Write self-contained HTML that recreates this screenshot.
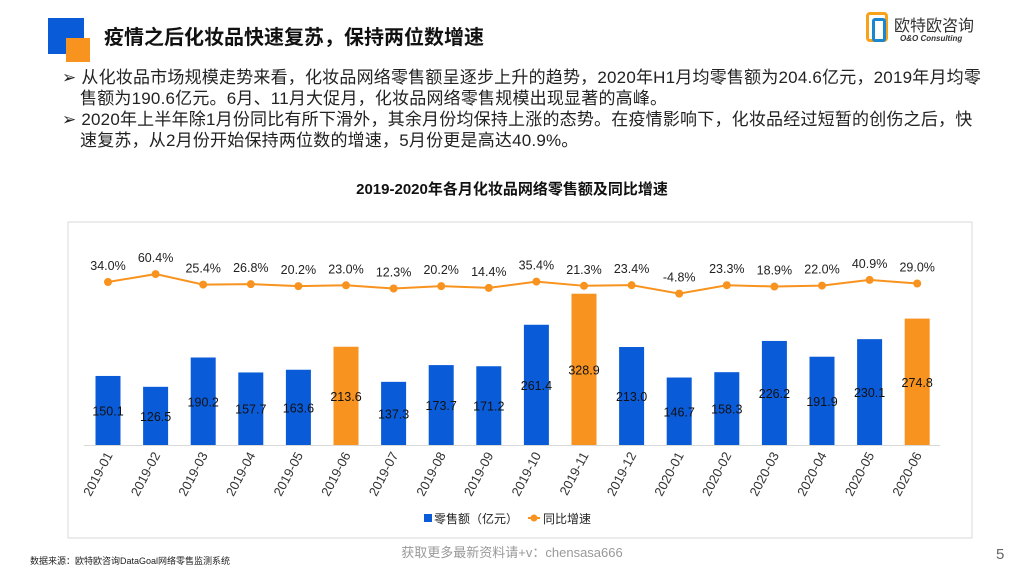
<!DOCTYPE html>
<html><head><meta charset="utf-8"><style>
body{margin:0;width:1024px;height:572px;background:#fff;position:relative;overflow:hidden;font-family:"Liberation Sans","Noto Sans CJK SC",sans-serif}
.abs{position:absolute}
</style></head><body>
<div class="abs" style="left:48px;top:18px;width:36px;height:36px;background:#0a5bd8"></div>
<div class="abs" style="left:66px;top:38px;width:24px;height:24px;background:#f7931e"></div>
<div class="abs" style="left:104px;top:21px;font-size:20px;font-weight:bold;color:#111">疫情之后化妆品快速复苏，保持两位数增速</div>
<div class="abs" style="left:866px;top:12px;width:130px;height:36px">
<div class="abs" style="left:0;top:0;width:22px;height:30px;border:3px solid #f7a21b;border-radius:4px;box-sizing:border-box"></div>
<div class="abs" style="left:6px;top:6px;width:14px;height:24px;border:3px solid #1a86d0;border-radius:3px;box-sizing:border-box"></div>
<div class="abs" style="left:28px;top:0;font-size:16px;color:#333">欧特欧咨询</div>
<div class="abs" style="left:34px;top:22px;font-size:8px;color:#333;font-style:italic;font-weight:bold">O&amp;O Consulting</div>
</div>
<div class="abs" style="left:62px;top:67px;white-space:nowrap;font-size:17px;line-height:21px;color:#222;letter-spacing:0.2px">
<div>➢ 从化妆品市场规模走势来看，化妆品网络零售额呈逐步上升的趋势，2020年H1月均零售额为204.6亿元，2019年月均零<br><span style="padding-left:18px">售额为190.6亿元。6月、11月大促月，化妆品网络零售规模出现显著的高峰。</span></div>
<div>➢ 2020年上半年除1月份同比有所下滑外，其余月份均保持上涨的态势。在疫情影响下，化妆品经过短暂的创伤之后，快<br><span style="padding-left:18px">速复苏，从2月份开始保持两位数的增速，5月份更是高达40.9%。</span></div>
</div>
<div class="abs" style="left:0;width:1024px;top:178px;text-align:center;font-size:15px;font-weight:bold;color:#111">2019-2020年各月化妆品网络零售额及同比增速</div>
<svg class="abs" style="left:0;top:0" width="1024" height="572">
<rect x="68" y="222" width="904" height="316" fill="none" stroke="#d9d9d9"/>
<line x1="84" x2="940" y1="445.5" y2="445.5" stroke="#d9d9d9"/>
<g id="g"></g>
<g font-size="12" fill="#222">
<rect x="424" y="514" width="8" height="8" fill="#0a5bd8"/><text x="434" y="523">零售额（亿元）</text>
<line x1="528" x2="540" y1="518" y2="518" stroke="#f7931e" stroke-width="2"/><circle cx="534" cy="518" r="3.5" fill="#f7931e"/><text x="543" y="523">同比增速</text>
</g>
</svg>
<div class="abs" style="left:30px;top:554px;font-size:9px;color:#222">数据来源：欧特欧咨询DataGoal网络零售监测系统</div>
<div class="abs" style="left:0;width:1024px;top:542px;text-align:center;font-size:13px;color:#999">获取更多最新资料请+v：chensasa666</div>
<div class="abs" style="left:996px;top:546px;font-size:15px;color:#666">5</div>
<script>
const categories=["2019-01","2019-02","2019-03","2019-04","2019-05","2019-06","2019-07","2019-08","2019-09","2019-10","2019-11","2019-12","2020-01","2020-02","2020-03","2020-04","2020-05","2020-06"];
const sales=[150.1,126.5,190.2,157.7,163.6,213.6,137.3,173.7,171.2,261.4,328.9,213.0,146.7,158.3,226.2,191.9,230.1,274.8];
const growth=[34.0,60.4,25.4,26.8,20.2,23.0,12.3,20.2,14.4,35.4,21.3,23.4,-4.8,23.3,18.9,22.0,40.9,29.0];
const highlight=["2019-06","2019-11","2020-06"];
const NS="http://www.w3.org/2000/svg",g=document.getElementById('g');
const xc=i=>108+i*47.6, yb=v=>445-v*0.46, yl=v=>292.2-v*0.3;
function mk(t,a){const e=document.createElementNS(NS,t);for(const k in a)e.setAttribute(k,a[k]);g.appendChild(e);return e;}
sales.forEach((v,i)=>{
 const r=mk('rect',{x:xc(i)-12.5,y:yb(v),width:25,height:445-yb(v),fill:highlight.includes(categories[i])?'#f7931e':'#0a5bd8'});
 
 
 const t=mk('text',{x:xc(i),y:(yb(v)+445)/2+5,'text-anchor':'middle','font-size':12.5,fill:'#111'});t.textContent=v.toFixed(1);
 
 
 const l=mk('text',{transform:`translate(${xc(i)+5},455) rotate(-62)`,'text-anchor':'end','font-size':13,fill:'#333'});l.textContent=categories[i];
 
 
});
const p=mk('polyline',{points:growth.map((v,i)=>xc(i)+','+yl(v)).join(' '),fill:'none',stroke:'#f7931e','stroke-width':2});


growth.forEach((v,i)=>{
 const c=mk('circle',{cx:xc(i),cy:yl(v),r:4,fill:'#f7931e'});
 
 
 const t=mk('text',{x:xc(i),y:yl(v)-12,'text-anchor':'middle','font-size':12.5,fill:'#222'});t.textContent=v.toFixed(1)+'%';
 
 
});
</script>
</body></html>
